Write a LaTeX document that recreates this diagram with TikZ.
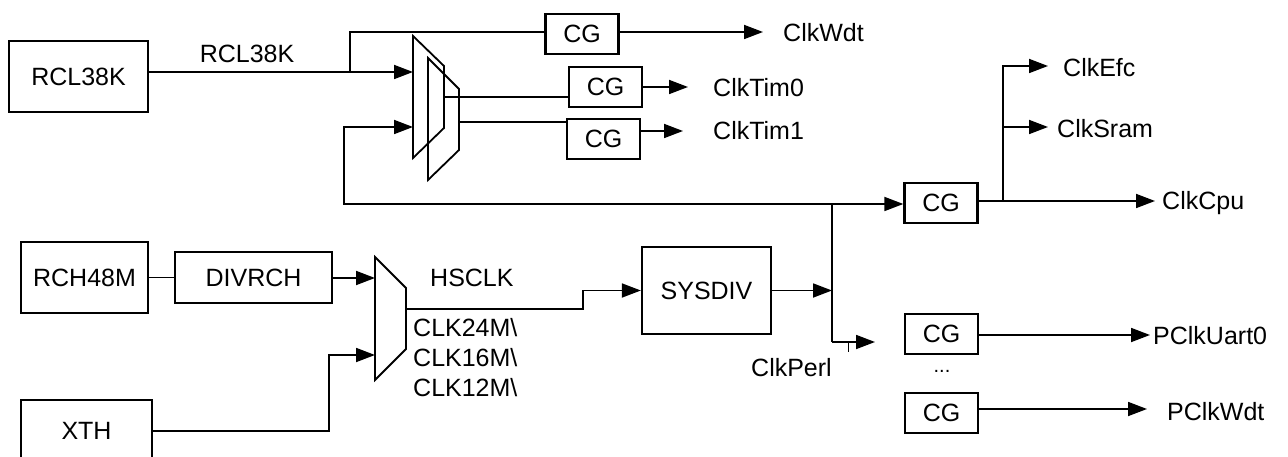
\documentclass[tikz,border=0pt]{standalone}
\usepackage{fontspec}
\setmainfont{Liberation Sans}
\usetikzlibrary{arrows.meta}
\begin{document}
\begin{tikzpicture}[x=1pt,y=-1pt,
  every node/.style={font=\fontsize{25}{30}\selectfont},
  box/.style={draw, line width=2.3pt, inner sep=0pt},
  cgbox/.style={box, minimum width=73pt, minimum height=40pt},
  wire/.style={line width=1.8pt},
  arr/.style={wire, -{Triangle[length=19pt,width=14pt]}},
  lbl/.style={inner sep=0pt, text depth=0pt, anchor=west},
  clbl/.style={inner sep=0pt, text depth=0pt},
  muxs/.style={line width=1.8pt, line join=miter}]
\useasboundingbox (0,0) rectangle (1288,457);
\clip (0,0) rectangle (1288,457);

% boxes
\node[box, minimum width=139pt, minimum height=71pt] (rcl) at (78.5,76.5) {RCL38K};
\node[cgbox] (cg1) at (582,34) {CG};
\node[cgbox] (cg2) at (605.5,87) {CG};
\node[cgbox] (cg3) at (603.5,139) {CG};
\node[cgbox] (cg4) at (941,203) {CG};
\node[cgbox] (cg5) at (941.5,334) {CG};
\node[cgbox] (cg6) at (941.5,413) {CG};
\node[box, minimum width=127pt, minimum height=71pt] (rch) at (84.5,277.5) {RCH48M};
\node[box, minimum width=157pt, minimum height=51pt] (div) at (253.5,277.5) {DIVRCH};
\node[box, minimum width=129pt, minimum height=87pt] (sys) at (706.5,290.5) {SYSDIV};
\node[box, minimum width=131pt, minimum height=62pt] (xth) at (86.5,431) {XTH};

% multiplexers
\draw[muxs] (413,36) -- (444,66) -- (444,128) -- (413,158) -- cycle;
\draw[muxs] (428,58) -- (459,89) -- (459,150) -- (428,180) -- cycle;
\draw[muxs] (375,257) -- (406,288) -- (406,349) -- (375,380) -- cycle;
\coordinate (m1i1) at (413,72);
\coordinate (m1i2) at (413,127);
\coordinate (m1o) at (444,97);
\coordinate (m2o) at (459,122);
\coordinate (m3i1) at (375,278);
\coordinate (m3i2) at (375,355);
\coordinate (m3o) at (406,309);

% helper coordinates
\coordinate (b1) at (350,72);
\coordinate (owdt) at (763,32);
\coordinate (otim0) at (688,87);
\coordinate (otim1) at (683,131);
\coordinate (j1) at (832,204);
\coordinate (lp) at (344,204);
\coordinate (jb) at (832,342);
\coordinate (operl) at (875,342);
\coordinate (tk) at (848,342);
\coordinate (ocpu) at (1155,201);
\coordinate (b2) at (1003,201);
\coordinate (oefc) at (1048,66);
\coordinate (osram) at (1048,127);
\coordinate (ouart) at (1150,335);
\coordinate (opwdt) at (1147,409);
\coordinate (xc) at (329,431);
\coordinate (hk) at (583,309);

% connectors
\draw[arr] (rcl.east |- m1i1) -- (m1i1);
\draw[wire] (b1) |- (cg1.west |- owdt);
\draw[arr] (cg1.east |- owdt) -- (owdt);
\draw[wire] (m1o) -- (cg2.west |- m1o);
\draw[arr] (cg2.east |- otim0) -- (otim0);
\draw[wire] (m2o) -- (cg3.west |- m2o);
\draw[arr] (cg3.east |- otim1) -- (otim1);
\draw[arr] (j1) -- (lp) |- (m1i2);
\draw[arr] (j1) -- (cg4.west |- j1);
\draw[wire] (j1) -- (jb);
\draw[arr] (jb) -- (operl);
\draw[line width=1pt] (tk) -- ++(0,10);
\draw[arr] (sys.east) -- (sys.east -| j1);
\draw[arr] (cg4.east |- ocpu) -- (ocpu);
\draw[arr] (b2) |- (oefc);
\draw[arr] (b2 |- osram) -- (osram);
\draw[arr] (cg5.east |- ouart) -- (ouart);
\draw[arr] (cg6.east |- opwdt) -- (opwdt);
\draw[wire] (rch.east) -- (div.west);
\draw[arr] (div.east |- m3i1) -- (m3i1);
\draw[arr] (xth.east |- xc) -- (xc) |- (m3i2);
\draw[arr] (m3o) -- (hk) |- (sys.west);

% labels
\node[clbl] (lrcl) at (247,54) {RCL38K};
\node[lbl] (lwdt) at (783,32) {ClkWdt};
\node[lbl] (ltim0) at (713,87) {ClkTim0};
\node[lbl] (ltim1) at (713,130) {ClkTim1};
\node[lbl] (lefc) at (1063,67) {ClkEfc};
\node[lbl] (lsram) at (1057,128) {ClkSram};
\node[lbl] (lcpu) at (1162,200) {ClkCpu};
\node[lbl] (luart) at (1153,335) {PClkUart0};
\node[lbl] (lpwdt) at (1167,411) {PClkWdt};
\node[lbl] (lperl) at (751,367) {ClkPerl};
\node[lbl] (lhs) at (430,278) {HSCLK};
\node[lbl] (l24) at (413,327) {CLK24M\textbackslash};
\node[lbl] (l16) at (413,357) {CLK16M\textbackslash};
\node[lbl] (l12) at (413,387) {CLK12M\textbackslash};
\node[clbl, font=\fontsize{20}{24}\selectfont] (ldots) at (942,371) {...};
\end{tikzpicture}
\end{document}
